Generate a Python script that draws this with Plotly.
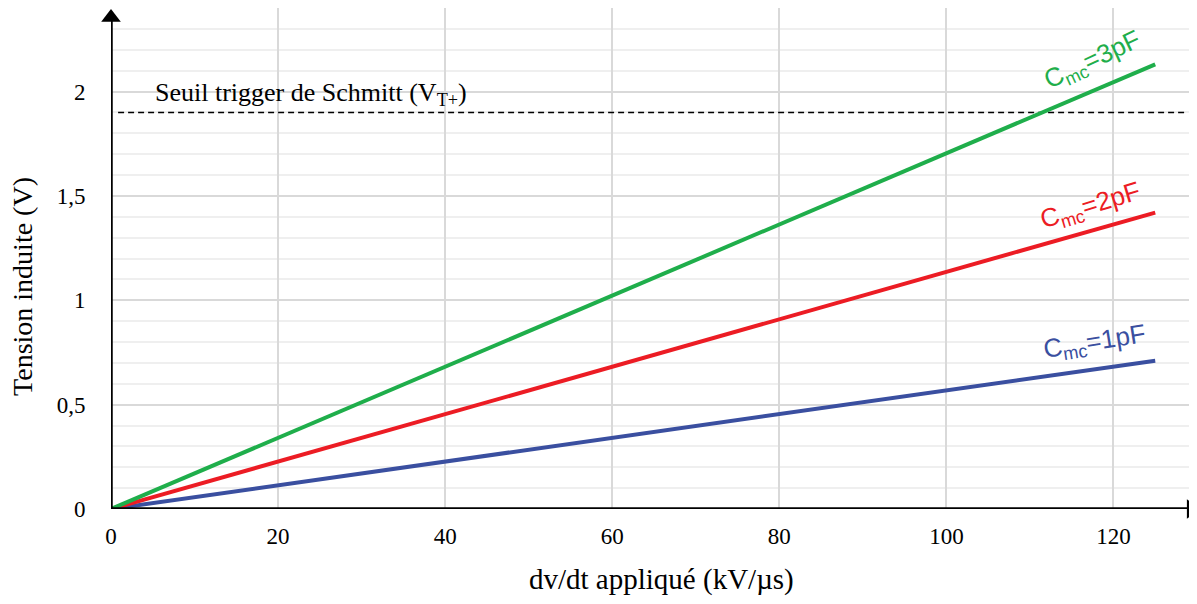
import plotly.graph_objects as go

# Data
dvdt = [0, 125]
v_1pF = [0, 0.71]
v_2pF = [0, 1.42]
v_3pF = [0, 2.13]
seuil = 1.9
series_names = ["C<sub>mc</sub>=1pF", "C<sub>mc</sub>=2pF", "C<sub>mc</sub>=3pF"]
series_colors = ["#3a4fa0", "#ec1c24", "#1fae4b"]
y_tickvals = [0, 0.5, 1, 1.5, 2]
y_ticktext = ["0", "0,5", "1", "1,5", "2"]
x_tickvals = [0, 20, 40, 60, 80, 100, 120]

X_MAX = 130
Y_MAX = 2.4

fig = go.Figure()

# threshold dashed line
fig.add_trace(go.Scatter(x=[0.85, 128.5], y=[seuil, seuil], mode="lines",
                         line=dict(color="black", width=1.5, dash="6px,4px"),
                         showlegend=False, hoverinfo="skip"))

for vals, col in zip([v_1pF, v_2pF, v_3pF], series_colors):
    fig.add_trace(go.Scatter(x=dvdt, y=vals, mode="lines",
                             line=dict(color=col, width=4),
                             showlegend=False))

serif = "Liberation Serif"
sans = "Liberation Sans"

# axis lines
fig.add_shape(type="line", x0=0, x1=X_MAX - 1.0, y0=0, y1=0, xref="x", yref="y",
              line=dict(color="black", width=3.5), layer="above")
fig.add_shape(type="line", x0=0, x1=0, y0=0, y1=Y_MAX - 0.06, xref="x", yref="y",
              line=dict(color="black", width=3.5), layer="above")
# arrowheads
fig.add_trace(go.Scatter(x=[X_MAX - 0.7], y=[0], mode="markers",
                         marker=dict(symbol="triangle-right", size=17, color="black"),
                         cliponaxis=False, showlegend=False, hoverinfo="skip"))
fig.add_trace(go.Scatter(x=[0], y=[Y_MAX - 0.045], mode="markers",
                         marker=dict(symbol="triangle-up", size=17, color="black"),
                         cliponaxis=False, showlegend=False, hoverinfo="skip"))

# line labels
label_pos = [(117.7, 0.80, -9), (117.2, 1.45, -17), (117.5, 2.15, -25)]
for name, col, (lx, ly, ang) in zip(series_names, series_colors, label_pos):
    fig.add_annotation(x=lx, y=ly, text=name, showarrow=False, textangle=ang,
                       font=dict(family=sans, size=26, color=col),
                       xanchor="center", yanchor="middle")

fig.add_annotation(x=5.0, y=1.99, text="Seuil trigger de Schmitt (V<sub>T+</sub>)",
                   showarrow=False, xanchor="left", yanchor="middle",
                   font=dict(family=serif, size=26, color="black"))

# axis titles
fig.add_annotation(x=-0.081, y=1.064, xref="paper", yref="y",
                   text="Tension induite (V)", showarrow=False, textangle=-90,
                   xanchor="center", yanchor="middle",
                   font=dict(family=serif, size=28, color="black"))
fig.add_annotation(x=0.507, y=-0.1417, xref="paper", yref="paper",
                   text="dv/dt appliqué (kV/µs)", showarrow=False,
                   xanchor="center", yanchor="middle",
                   font=dict(family=serif, size=29, color="black"))

fig.update_layout(
    width=1189, height=588,
    margin=dict(l=103, r=0, t=0, b=87, autoexpand=False),
    plot_bgcolor="white", paper_bgcolor="white",
    font=dict(family=serif, size=22, color="black"),
    xaxis=dict(range=[0, X_MAX], tickvals=x_tickvals, showgrid=True, gridcolor="#d9d9d9",
               gridwidth=1.5, zeroline=False, showline=False,
               ticks="outside", ticklen=6, tickcolor="rgba(0,0,0,0)",
               tickfont=dict(family=serif, size=23)),
    yaxis=dict(range=[0, Y_MAX], tickvals=y_tickvals, ticktext=y_ticktext, showgrid=True,
               gridcolor="#d9d9d9", gridwidth=1.5, zeroline=False, showline=False,
               ticks="outside", ticklen=20, tickcolor="rgba(0,0,0,0)",
               tickfont=dict(family=serif, size=23),
               minor=dict(dtick=0.1, showgrid=True, gridcolor="#efefef", gridwidth=1.5)),
)

fig.write_html("out.html")
